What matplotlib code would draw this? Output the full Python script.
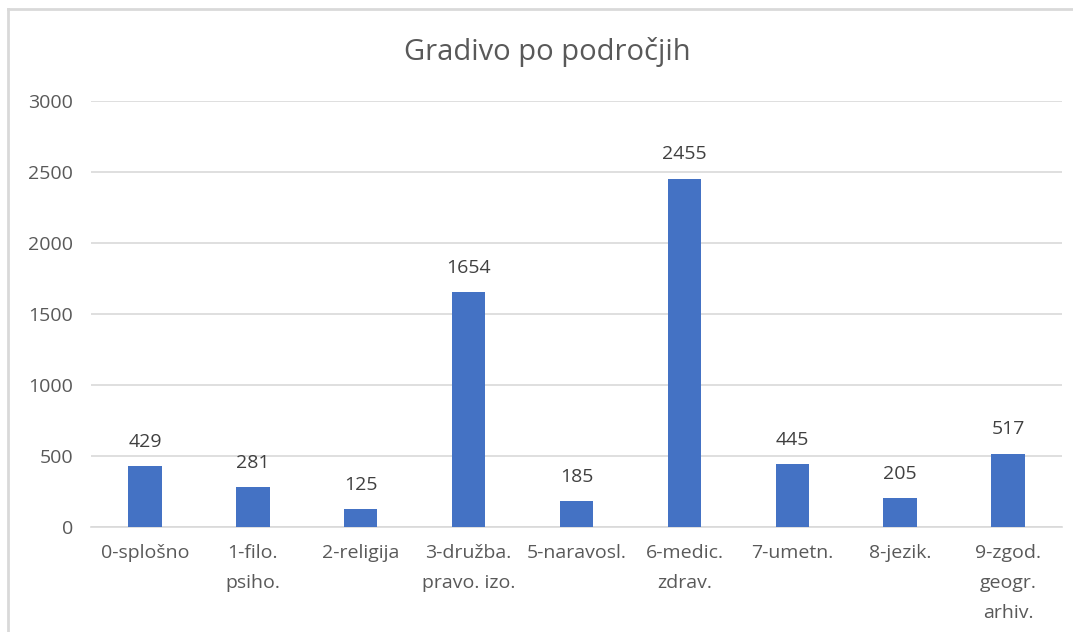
import matplotlib
matplotlib.use('Agg')
import matplotlib.pyplot as plt
from matplotlib.lines import Line2D

# Podatki
categories = ['0-splošno', '1-filo.\npsiho.', '2-religija', '3-družba.\npravo. izo.',
              '5-naravosl.', '6-medic.\nzdrav.', '7-umetn.', '8-jezik.',
              '9-zgod.\ngeogr.\narhiv.']
values = [429, 281, 125, 1654, 185, 2455, 445, 205, 517]
yticks = [0, 500, 1000, 1500, 2000, 2500, 3000]

text_color = '#595959'
grid_color = '#D9D9D9'
bar_color = '#4472C4'

plt.rcParams['font.family'] = ['Open Sans', 'DejaVu Sans']

fig = plt.figure(figsize=(10.73, 6.32), dpi=100)
ax = fig.add_axes([0.0848, 0.166, 0.905, 0.674])

x = range(len(categories))
bars = ax.bar(x, values, width=0.31, color=bar_color, zorder=3)

for xi, v in zip(x, values):
    ax.annotate(str(v), (xi, v), xytext=(0, 11), textcoords='offset points',
                ha='center', va='bottom', fontsize=14, color='#404040')

ax.set_xlim(-0.5, len(categories) - 0.5)
ax.set_ylim(0, 3000)
ax.set_yticks(yticks)
ax.set_xticks(list(x))
ax.set_xticklabels(categories, fontsize=14, color=text_color, linespacing=1.85)
ax.tick_params(axis='y', labelsize=14, labelcolor=text_color, length=0, pad=13)
ax.tick_params(axis='x', length=0, pad=12)
ax.grid(axis='y', color=grid_color, linewidth=1.2, zorder=0)
for s in ['top', 'right', 'left']:
    ax.spines[s].set_visible(False)
ax.spines['bottom'].set_color(grid_color)
ax.spines['bottom'].set_linewidth(1.2)

fig.text(0.51, 0.918, 'Gradivo po področjih', ha='center', va='center',
         fontsize=21, color=text_color)

# okvir grafikona (zgoraj in levo)
top_y = 1 - 9 / 632
left_x = 8 / 1073
fig.lines.append(Line2D([left_x, 1.0], [top_y, top_y], transform=fig.transFigure,
                        color='#D9D9D9', linewidth=2))
fig.lines.append(Line2D([left_x, left_x], [0.0, top_y], transform=fig.transFigure,
                        color='#D9D9D9', linewidth=2))

fig.savefig('out.png', dpi=100)
